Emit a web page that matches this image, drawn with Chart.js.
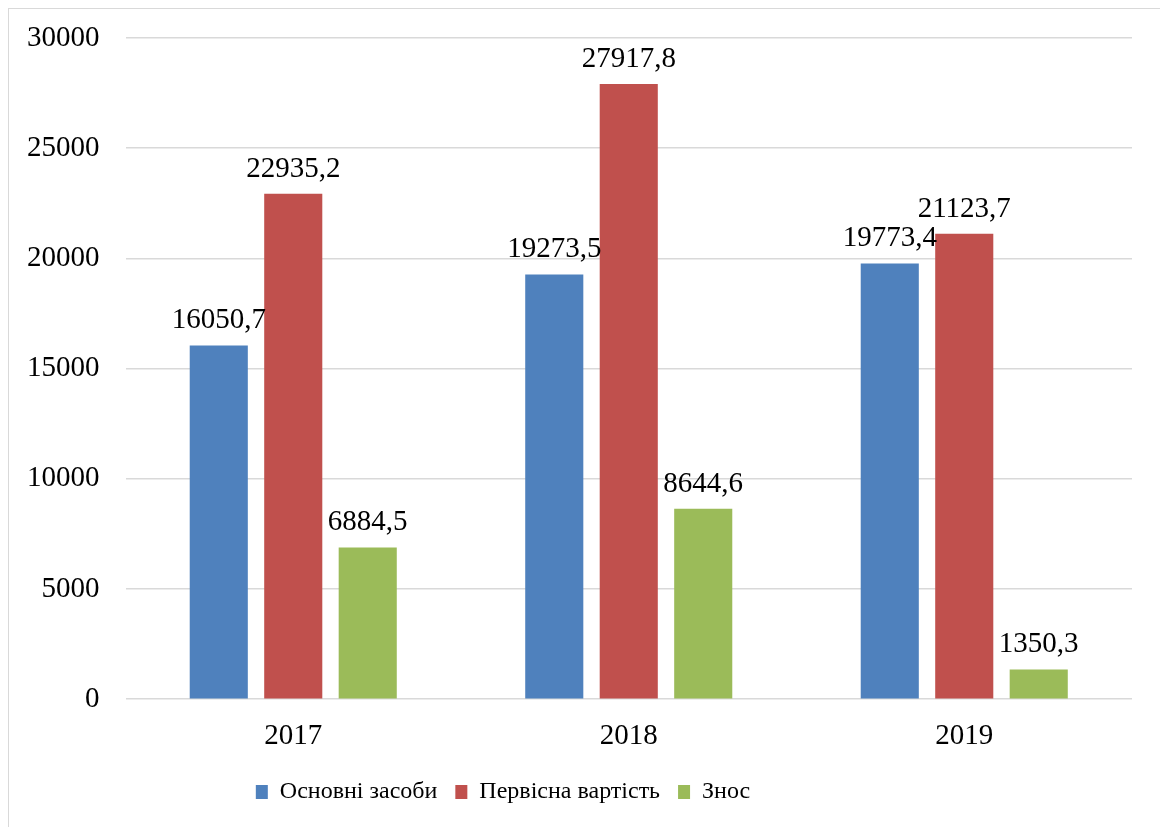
<!DOCTYPE html>
<html>
<head>
<meta charset="utf-8">
<script src="https://cdn.jsdelivr.net/npm/chart.js@4.4.0/dist/chart.umd.min.js"></script>
<style>
  html, body { margin: 0; padding: 0; background: #fff; overflow: hidden; }
  #frame { position: absolute; left: 8px; top: 8px; width: 1200px; height: 900px; border: 1.5px solid #d9d9d9; box-sizing: border-box; }
  #wrap { position: absolute; left: 0; top: 0; width: 1160px; height: 827px; }
</style>
</head>
<body>
<div id="frame"></div>
<div id="wrap"><canvas id="chart" width="1160" height="827"></canvas></div>
<script>
// Дані діаграми
const years = ["2017", "2018", "2019"];
const osnovniZasoby = [16050.7, 19273.5, 19773.4];
const pervisnaVartist = [22935.2, 27917.8, 21123.7];
const znos = [6884.5, 8644.6, 1350.3];
const seriesNames = ["Основні засоби", "Первісна вартість", "Знос"];
const seriesColors = ["#4f81bd", "#c0504d", "#9bbb59"];

const serif = "'Liberation Serif', 'Times New Roman', serif";
Chart.defaults.font.family = serif;
Chart.defaults.color = "#000";

// Підписи значень над стовпчиками
const valueLabels = {
  id: "valueLabels",
  afterDatasetsDraw(chart) {
    const ctx = chart.ctx;
    ctx.save();
    ctx.font = "29px " + serif;
    ctx.fillStyle = "#000";
    ctx.textAlign = "center";
    ctx.textBaseline = "alphabetic";
    chart.data.datasets.forEach((ds, i) => {
      chart.getDatasetMeta(i).data.forEach((bar, j) => {
        const text = String(ds.data[j]).replace(".", ",");
        ctx.fillText(text, bar.x, bar.y - 17);
      });
    });
    ctx.restore();
  },
};

// Зсув легенди, як в оригіналі
const legendShift = {
  id: "legendShift",
  afterLayout(chart) {
    const lg = chart.legend;
    const dx = 503 - (lg.left + lg.right) / 2;
    lg.left += dx;
    lg.right += dx;
    lg.top -= 4;
    lg.bottom -= 4;
  },
};

new Chart(document.getElementById("chart").getContext("2d"), {
  type: "bar",
  data: {
    labels: years,
    datasets: [
      { label: seriesNames[0], data: osnovniZasoby, backgroundColor: seriesColors[0] },
      { label: seriesNames[1], data: pervisnaVartist, backgroundColor: seriesColors[1] },
      { label: seriesNames[2], data: znos, backgroundColor: seriesColors[2] },
    ],
  },
  options: {
    responsive: false,
    animation: false,
    datasets: {
      bar: { categoryPercentage: 0.666, barPercentage: 0.78 },
    },
    layout: { padding: { left: 1, right: 28, top: 38, bottom: 9 } },
    plugins: {
      legend: {
        position: "bottom",
        labels: {
          font: { family: serif, size: 24 },
          color: "#000",
          boxWidth: 12,
          boxHeight: 14,
          padding: 18,
        },
      },
      tooltip: { enabled: false },
    },
    scales: {
      x: {
        grid: { display: false },
        border: { display: false },
        ticks: { font: { family: serif, size: 29 }, color: "#000", padding: 12 },
      },
      y: {
        min: 0,
        max: 30000,
        afterFit: (s) => { s.paddingTop = 0; },
        ticks: {
          stepSize: 5000,
          font: { family: serif, size: 29 },
          color: "#000",
          padding: 26,
          callback: (v) => String(v),
        },
        grid: { color: "#d9d9d9", lineWidth: 1.5, drawTicks: false },
        border: { display: false },
      },
    },
  },
  plugins: [valueLabels, legendShift],
});
</script>
</body>
</html>
